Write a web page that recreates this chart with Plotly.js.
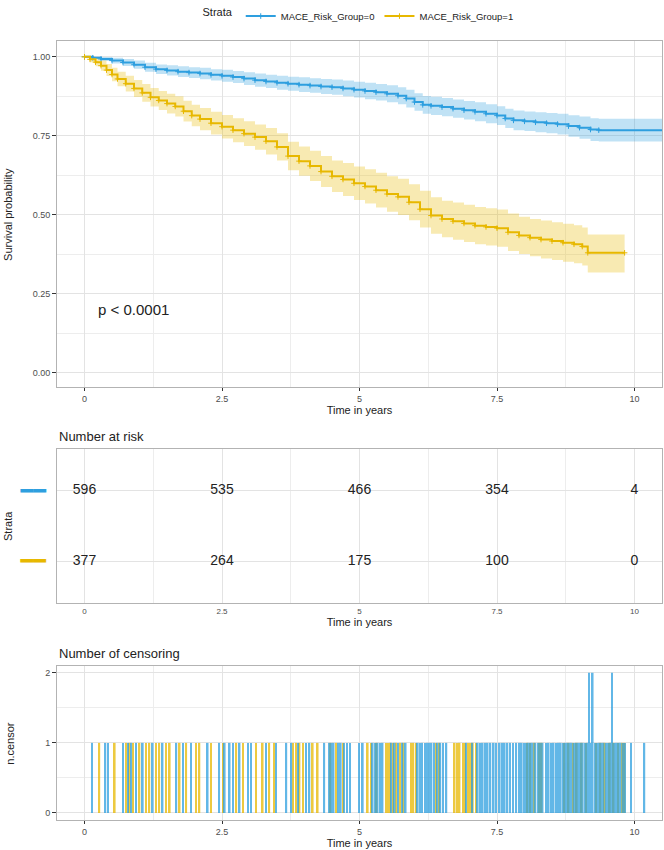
<!DOCTYPE html>
<html>
<head>
<meta charset="utf-8">
<script src="https://cdn.plot.ly/plotly-3.0.1.min.js"></script>
<style>
  html, body { margin: 0; padding: 0; background: #fff; }
  #km-plot { width: 664px; height: 850px; }
</style>
</head>
<body>
<div id="km-plot"></div>
<script>
// Kaplan-Meier estimates (step knots)
const timeG0 = [0, 0.15, 0.3, 0.5, 0.7, 0.9, 1.1, 1.3, 1.5, 1.7, 1.9, 2.1, 2.3, 2.5, 2.7, 2.9, 3.1, 3.3, 3.5, 3.7, 3.9, 4.1, 4.3, 4.5, 4.7, 4.9, 5.1, 5.3, 5.5, 5.7, 5.85, 6.0, 6.15, 6.3, 6.5, 6.7, 6.9, 7.1, 7.3, 7.5, 7.65, 7.8, 8.0, 8.2, 8.4, 8.6, 8.8, 9.0, 9.2, 9.35, 10.6];
const survG0 = [1.000, 0.997, 0.993, 0.988, 0.982, 0.975, 0.967, 0.961, 0.957, 0.953, 0.950, 0.947, 0.943, 0.940, 0.936, 0.931, 0.926, 0.922, 0.918, 0.915, 0.912, 0.909, 0.906, 0.904, 0.900, 0.896, 0.892, 0.888, 0.883, 0.877, 0.868, 0.857, 0.848, 0.845, 0.841, 0.836, 0.831, 0.826, 0.820, 0.814, 0.805, 0.799, 0.796, 0.793, 0.790, 0.787, 0.781, 0.776, 0.770, 0.768, 0.768];
const lowerG0 = [1.000, 0.993, 0.987, 0.979, 0.971, 0.962, 0.953, 0.946, 0.941, 0.936, 0.933, 0.929, 0.925, 0.921, 0.917, 0.911, 0.905, 0.901, 0.896, 0.893, 0.889, 0.886, 0.882, 0.880, 0.875, 0.871, 0.866, 0.862, 0.856, 0.850, 0.840, 0.829, 0.820, 0.816, 0.812, 0.807, 0.802, 0.796, 0.790, 0.784, 0.775, 0.768, 0.765, 0.761, 0.758, 0.754, 0.747, 0.741, 0.734, 0.732, 0.732];
const upperG0 = [1.000, 1.000, 0.999, 0.997, 0.993, 0.988, 0.981, 0.976, 0.973, 0.970, 0.967, 0.965, 0.961, 0.959, 0.955, 0.951, 0.947, 0.943, 0.940, 0.937, 0.935, 0.932, 0.930, 0.928, 0.925, 0.921, 0.918, 0.914, 0.910, 0.904, 0.896, 0.885, 0.876, 0.874, 0.870, 0.865, 0.860, 0.856, 0.850, 0.844, 0.836, 0.830, 0.827, 0.825, 0.822, 0.820, 0.815, 0.811, 0.806, 0.804, 0.804];

const timeG1 = [0, 0.1, 0.2, 0.3, 0.4, 0.5, 0.6, 0.75, 0.9, 1.05, 1.2, 1.35, 1.5, 1.65, 1.8, 1.95, 2.1, 2.3, 2.5, 2.7, 2.9, 3.1, 3.3, 3.5, 3.7, 3.9, 4.1, 4.3, 4.5, 4.7, 4.9, 5.1, 5.3, 5.5, 5.7, 5.9, 6.1, 6.3, 6.5, 6.7, 6.9, 7.1, 7.3, 7.5, 7.7, 7.9, 8.1, 8.3, 8.5, 8.7, 8.9, 9.05, 9.15, 9.82];
const survG1 = [1.000, 0.992, 0.983, 0.972, 0.958, 0.944, 0.930, 0.915, 0.900, 0.886, 0.872, 0.862, 0.852, 0.843, 0.828, 0.814, 0.803, 0.790, 0.779, 0.768, 0.757, 0.746, 0.733, 0.715, 0.686, 0.670, 0.655, 0.637, 0.622, 0.612, 0.600, 0.590, 0.578, 0.566, 0.557, 0.540, 0.518, 0.498, 0.487, 0.480, 0.473, 0.466, 0.462, 0.458, 0.445, 0.435, 0.428, 0.422, 0.417, 0.412, 0.407, 0.400, 0.380, 0.380];
const lowerG1 = [1.000, 0.983, 0.970, 0.956, 0.939, 0.923, 0.907, 0.890, 0.873, 0.858, 0.843, 0.832, 0.821, 0.811, 0.795, 0.780, 0.768, 0.754, 0.742, 0.730, 0.718, 0.706, 0.691, 0.672, 0.641, 0.624, 0.607, 0.588, 0.572, 0.560, 0.547, 0.536, 0.523, 0.510, 0.500, 0.483, 0.460, 0.440, 0.429, 0.421, 0.414, 0.407, 0.403, 0.399, 0.386, 0.376, 0.369, 0.362, 0.357, 0.352, 0.347, 0.340, 0.318, 0.318];
const upperG1 = [1.000, 1.000, 0.996, 0.988, 0.977, 0.965, 0.953, 0.940, 0.927, 0.914, 0.901, 0.892, 0.883, 0.875, 0.861, 0.848, 0.838, 0.826, 0.816, 0.806, 0.796, 0.786, 0.775, 0.758, 0.731, 0.716, 0.703, 0.686, 0.672, 0.664, 0.653, 0.644, 0.633, 0.622, 0.614, 0.597, 0.576, 0.556, 0.545, 0.539, 0.532, 0.525, 0.521, 0.517, 0.504, 0.494, 0.487, 0.482, 0.477, 0.472, 0.467, 0.460, 0.438, 0.438];

// number at risk table
const riskTimes = [0, 2.5, 5, 7.5, 10];
const riskG0 = [596, 535, 466, 354, 4];
const riskG1 = [377, 264, 175, 100, 0];

// censoring times per group
const censorTimeG0 = [0.14, 0.38, 0.43, 0.70, 0.79, 0.85, 0.94, 1.06, 1.24, 1.42, 1.67, 1.79, 1.94, 2.24, 2.45, 2.55, 2.64, 2.70, 2.82, 2.97, 3.03, 3.30, 3.48, 3.67, 3.76, 3.88, 4.03, 4.09, 4.36,
  4.45, 4.49, 4.53, 4.62, 4.66, 4.72, 4.77, 4.83, 4.99, 5.06, 5.24, 5.28, 5.33, 5.37, 5.42, 5.58, 5.64, 5.70, 5.78, 5.84, 6.06, 6.10, 6.14, 6.19, 6.24, 6.27, 6.31, 6.36, 6.42, 6.47, 6.52, 6.58, 6.94, 7.05,
  7.15, 7.19, 7.24, 7.29, 7.33, 7.38, 7.44, 7.48, 7.55, 7.60, 7.64, 7.69, 7.74, 7.79, 7.85, 7.91, 7.95, 7.99, 8.03, 8.07, 8.11, 8.15, 8.20, 8.25, 8.29, 8.33, 8.39, 8.44, 8.48, 8.53, 8.57, 8.62, 8.66,
  8.70, 8.74, 8.78, 8.82, 8.86, 8.90, 8.94, 8.98, 9.02, 9.06, 9.10, 9.14, 9.17, 9.21, 9.24, 9.28, 9.32, 9.36, 9.40, 9.44, 9.48, 9.52, 9.56, 9.59, 9.63, 9.67, 9.71, 9.75, 9.79, 9.83, 9.94, 10.18];
const censorCountG0 = censorTimeG0.map(t => (t === 9.17 || t === 9.24 || t === 9.59) ? 2 : 1);
const censorTimeG1 = [0.27, 0.55, 0.76, 0.82, 0.88, 1.00, 1.12, 1.18, 1.30, 1.36, 1.48, 1.55, 1.73, 1.85, 2.03, 2.09, 2.30, 2.52, 2.76, 2.88, 3.12, 3.24, 3.36, 3.45, 3.79, 3.85, 3.91, 3.97, 4.15, 4.24,
  4.47, 4.58, 4.70, 5.15, 5.21, 5.31, 5.48, 5.52, 5.56, 5.61, 5.67, 5.74, 5.80, 5.94, 5.98, 6.03, 6.39, 6.45, 6.73, 6.77, 6.82, 6.88, 6.92, 6.97, 7.01, 7.06, 7.12,
  8.05, 8.10, 8.18, 8.27, 8.31, 8.72, 8.80, 8.88, 8.95, 9.04, 9.12, 9.30, 9.38, 9.46, 9.55, 9.62, 9.70, 9.78, 9.82];
const censorCountG1 = censorTimeG1.map(() => 1);

const groupNames = ['MACE_Risk_Group=0', 'MACE_Risk_Group=1'];
const blue = '#2E9FDF';
const yellow = '#E7B800';

function band(x, lo, hi, fill) {
  return [
    { x: x, y: lo, mode: 'lines', line: { width: 0, shape: 'hv' }, hoverinfo: 'skip', showlegend: false },
    { x: x, y: hi, mode: 'lines', line: { width: 0, shape: 'hv' }, fill: 'tonexty', fillcolor: fill, hoverinfo: 'skip', showlegend: false }
  ];
}

const traces = [
  ...band(timeG0, lowerG0, upperG0, 'rgba(46,159,223,0.3)'),
  ...band(timeG1, lowerG1, upperG1, 'rgba(231,184,0,0.3)'),
  {
    x: timeG0, y: survG0, name: groupNames[0], mode: 'lines+markers',
    line: { color: blue, width: 2, shape: 'hv' },
    marker: { symbol: 'cross-thin', size: 4, color: blue, line: { width: 1, color: blue } }
  },
  {
    x: timeG1, y: survG1, name: groupNames[1], mode: 'lines+markers',
    line: { color: yellow, width: 2, shape: 'hv' },
    marker: { symbol: 'cross-thin', size: 4, color: yellow, line: { width: 1, color: yellow } }
  },
  {
    x: riskTimes, y: riskTimes.map(() => 2), text: riskG0.map(String), mode: 'text',
    textfont: { size: 14, color: '#222' }, xaxis: 'x2', yaxis: 'y2', showlegend: false, hoverinfo: 'skip'
  },
  {
    x: riskTimes, y: riskTimes.map(() => 1), text: riskG1.map(String), mode: 'text',
    textfont: { size: 14, color: '#222' }, xaxis: 'x2', yaxis: 'y2', showlegend: false, hoverinfo: 'skip'
  },
  {
    type: 'bar', x: censorTimeG1, y: censorCountG1, width: 0.03, marker: { color: yellow, line: { width: 0 } },
    opacity: 0.75, xaxis: 'x3', yaxis: 'y3', showlegend: false, hoverinfo: 'skip'
  },
  {
    type: 'bar', x: censorTimeG0, y: censorCountG0, width: 0.03, marker: { color: blue, line: { width: 0 } },
    opacity: 0.75, xaxis: 'x3', yaxis: 'y3', showlegend: false, hoverinfo: 'skip'
  }
];

const tickFont = { size: 9, color: '#4d4d4d' };
const titleFont = { size: 11, color: '#222' };

function timeAxis(anchor, extra) {
  return Object.assign({
    anchor: anchor,
    domain: [0, 1],
    range: [-0.5, 10.5],
    tickvals: [0, 2.5, 5, 7.5, 10],
    ticktext: ['0', '2.5', '5', '7.5', '10'],
    ticks: 'outside', ticklen: 3, tickcolor: '#333',
    tickfont: tickFont,
    showgrid: true, gridcolor: '#e3e3e3', gridwidth: 1,
    minor: { dtick: 1.25, tick0: 0, showgrid: true, gridcolor: '#ededed', ticks: '' },
    showline: true, mirror: true, linecolor: '#b3b3b3', linewidth: 1,
    zeroline: false,
    title: { text: 'Time in years', font: titleFont, standoff: 3 }
  }, extra || {});
}

// colored key bars used as the risk table's row labels
const keyBar = c => '<span style="color:' + c + '"><b>━━</b></span>';

const layout = {
  width: 664,
  height: 850,
  font: { family: '"Liberation Sans", Arial, sans-serif', color: '#222' },
  paper_bgcolor: '#fff',
  plot_bgcolor: '#fff',
  margin: { l: 57, r: 2, t: 37, b: 30 },
  barmode: 'overlay',
  showlegend: true,
  legend: {
    orientation: 'h', x: 0.5, xanchor: 'center', y: 1.032, yanchor: 'middle',
    traceorder: 'normal',
    title: { text: 'Strata', font: { size: 11 } },
    font: { size: 9.5 }, itemwidth: 30, tracegroupgap: 0
  },
  xaxis: timeAxis('y'),
  yaxis: {
    domain: [0.5556, 1], range: [-0.045, 1.05],
    tickvals: [0, 0.25, 0.5, 0.75, 1], ticktext: ['0.00', '0.25', '0.50', '0.75', '1.00'],
    ticks: 'outside', ticklen: 4, tickcolor: '#333', tickfont: tickFont,
    showgrid: true, gridcolor: '#e3e3e3',
    minor: { dtick: 0.125, tick0: 0, showgrid: true, gridcolor: '#ededed', ticks: '' },
    showline: true, mirror: true, linecolor: '#b3b3b3', zeroline: false
  },
  xaxis2: timeAxis('y2', { ticks: '', tickfont: { size: 8, color: '#4d4d4d' } }),
  yaxis2: {
    domain: [0.2784, 0.4764], range: [0.4, 2.6],
    tickvals: [1, 2],
    ticktext: [keyBar(yellow), keyBar(blue)],
    tickfont: { size: 21, family: '"DejaVu Sans Mono", "DejaVu Sans"' }, ticks: '', ticklabelstandoff: 6,
    showgrid: true, gridcolor: '#e3e3e3',
    showline: true, mirror: true, linecolor: '#b3b3b3', zeroline: false
  },
  xaxis3: timeAxis('y3'),
  yaxis3: {
    domain: [0, 0.198], range: [-0.1, 2.1],
    tickvals: [0, 1, 2], ticktext: ['0', '1', '2'],
    ticks: 'outside', ticklen: 4, tickcolor: '#333', tickfont: tickFont,
    showgrid: true, gridcolor: '#e3e3e3',
    minor: { dtick: 0.5, tick0: 0, showgrid: true, gridcolor: '#ededed', ticks: '' },
    showline: true, mirror: true, linecolor: '#b3b3b3', zeroline: false
  },
  annotations: [
    { text: 'p < 0.0001', xref: 'x', yref: 'y', x: 0.2, y: 0.2, xanchor: 'left', yanchor: 'middle',
      showarrow: false, font: { size: 15, color: '#222' } },
    { text: 'Survival probability', xref: 'paper', yref: 'paper', x: -0.081, y: 0.778, textangle: -90,
      xanchor: 'center', yanchor: 'middle', showarrow: false, font: titleFont },
    { text: 'Number at risk', xref: 'paper', yref: 'paper', x: 0, y: 0.4764, xanchor: 'left', yanchor: 'bottom',
      yshift: 3, showarrow: false, font: { size: 13, color: '#222' } },
    { text: 'Strata', xref: 'paper', yref: 'paper', x: -0.081, y: 0.3774, textangle: -90,
      xanchor: 'center', yanchor: 'middle', showarrow: false, font: titleFont },
    { text: 'Number of censoring', xref: 'paper', yref: 'paper', x: 0, y: 0.198, xanchor: 'left', yanchor: 'bottom',
      yshift: 3, showarrow: false, font: { size: 13, color: '#222' } },
    { text: 'n.censor', xref: 'paper', yref: 'paper', x: -0.078, y: 0.099, textangle: -90,
      xanchor: 'center', yanchor: 'middle', showarrow: false, font: titleFont }
  ]
};

const config = { displayModeBar: false, responsive: false };

Plotly.newPlot('km-plot', traces, layout, config);
</script>
</body>
</html>
